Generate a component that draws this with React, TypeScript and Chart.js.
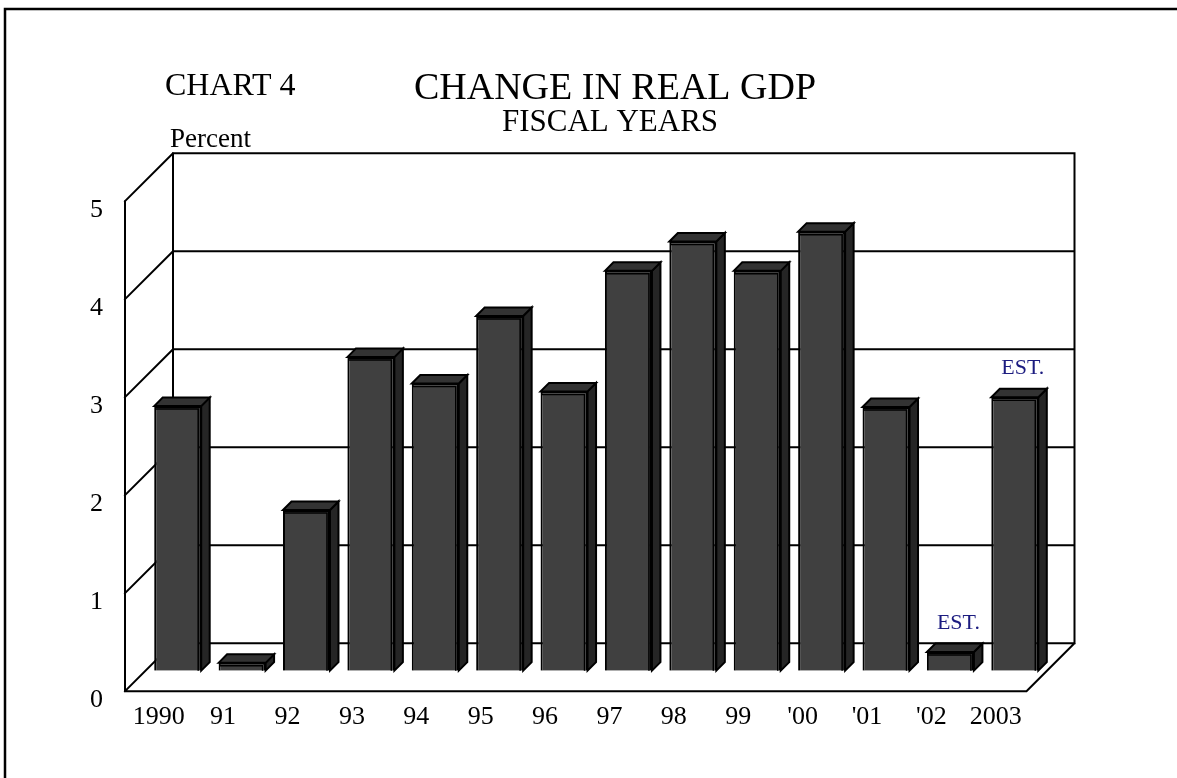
import React, { useEffect, useRef } from "react";
import { Chart, registerables } from "chart.js";

Chart.register(...registerables);

// ---- data ----
const categories = ["1990", "91", "92", "93", "94", "95", "96", "97", "98", "99", "'00", "'01", "'02", "2003"];
const gdpChange = [2.7, 0.08, 1.64, 3.2, 2.93, 3.62, 2.85, 4.08, 4.38, 4.08, 4.48, 2.69, 0.19, 2.79];
const barNotes = ["", "", "", "", "", "", "", "", "", "", "", "", "EST.", "EST."];
const yTicks = [0, 1, 2, 3, 4, 5];
const chartLabel = "CHART 4";
const titleText = "CHANGE IN REAL GDP";
const subtitleText = "FISCAL YEARS";
const unitText = "Percent";

const SERIF = "'Liberation Serif', 'Times New Roman', Times, serif";
const FRONT = 20.5; // depth from bar plane to front edge
const BACK = 27.5; // depth from bar plane to back wall
const BAR_DEPTH = 8.5;

const pseudo3d = {
  id: "pseudo3d",
  beforeDraw(chart: any) {
    const ctx = chart.ctx;
    ctx.save();
    ctx.strokeStyle = "#000";
    ctx.lineWidth = 2.5;
    ctx.beginPath();
    ctx.moveTo(5, 778);
    ctx.lineTo(5, 9);
    ctx.lineTo(1177, 9);
    ctx.stroke();

    ctx.fillStyle = "#000";
    ctx.textBaseline = "alphabetic";
    ctx.textAlign = "left";
    ctx.font = `32px ${SERIF}`;
    ctx.fillText(chartLabel, 165, 95);
    ctx.font = `27px ${SERIF}`;
    ctx.fillText(unitText, 170, 147);
    ctx.textAlign = "center";
    ctx.font = `38px ${SERIF}`;
    ctx.fillText(titleText, 615, 99);
    ctx.font = `31px ${SERIF}`;
    ctx.fillText(subtitleText, 610, 131);
    ctx.restore();
  },
  beforeDatasetsDraw(chart: any) {
    const { ctx, chartArea, scales } = chart;
    const { left, right } = chartArea;
    const y = scales.y;
    const y0 = y.getPixelForValue(0);
    const yMax = y.getPixelForValue(5);
    const bl = left + BACK;
    const br = right + BACK;
    const fl = left - FRONT;
    ctx.save();
    ctx.strokeStyle = "#000";
    ctx.lineWidth = 2;
    ctx.lineCap = "square";
    ctx.beginPath();
    // back wall frame
    ctx.moveTo(bl, y0 - BACK);
    ctx.lineTo(bl, yMax - BACK);
    ctx.lineTo(br, yMax - BACK);
    ctx.lineTo(br, y0 - BACK);
    // back wall gridlines + side wall diagonals
    for (const v of yTicks) {
      const py = y.getPixelForValue(v);
      ctx.moveTo(bl, py - BACK);
      ctx.lineTo(br, py - BACK);
      ctx.moveTo(fl, py + FRONT);
      ctx.lineTo(bl, py - BACK);
    }
    // side wall front edge
    ctx.moveTo(fl, y0 + FRONT);
    ctx.lineTo(fl, yMax + FRONT);
    // floor front & right edges
    ctx.moveTo(fl, y0 + FRONT);
    ctx.lineTo(right - FRONT, y0 + FRONT);
    ctx.lineTo(br, y0 - BACK);
    ctx.stroke();
    ctx.restore();
  },
  afterDatasetsDraw(chart: any) {
    const ctx = chart.ctx;
    const meta = chart.getDatasetMeta(0);
    ctx.save();
    ctx.strokeStyle = "#000";
    ctx.lineWidth = 2;
    ctx.lineJoin = "miter";
    const d = BAR_DEPTH;
    meta.data.forEach((bar: any, i: number) => {
      const { x, y: top, base, width } = bar.getProps(["x", "y", "base", "width"], true);
      const l = x - width / 2;
      const r = x + width / 2;
      // side face
      ctx.fillStyle = "#252525";
      ctx.beginPath();
      ctx.moveTo(r, top);
      ctx.lineTo(r + d, top - d);
      ctx.lineTo(r + d, base - d);
      ctx.lineTo(r, base);
      ctx.closePath();
      ctx.fill();
      ctx.stroke();
      // top face
      ctx.fillStyle = "#333333";
      ctx.beginPath();
      ctx.moveTo(l, top);
      ctx.lineTo(l + d, top - d);
      ctx.lineTo(r + d, top - d);
      ctx.lineTo(r, top);
      ctx.closePath();
      ctx.fill();
      ctx.stroke();
      // inner highlight line on the front face
      ctx.save();
      ctx.lineWidth = 1.5;
      ctx.beginPath();
      ctx.moveTo(l + 1, top + 3);
      ctx.lineTo(r - 3, top + 3);
      ctx.lineTo(r - 3, base);
      ctx.stroke();
      ctx.restore();

      const note = barNotes[i];
      if (note) {
        ctx.save();
        ctx.fillStyle = "#1c1c80";
        ctx.font = `22px ${SERIF}`;
        ctx.textAlign = "center";
        ctx.textBaseline = "middle";
        ctx.fillText(note, x + 8, top - 29);
        ctx.restore();
      }
    });
    ctx.restore();
  },
};

export default function App() {
  const canvasRef = useRef<HTMLCanvasElement | null>(null);

  useEffect(() => {
    if (!canvasRef.current) return;
    const chart = new Chart(canvasRef.current, {
      type: "bar",
      data: {
        labels: categories,
        datasets: [
          {
            label: "Change in real GDP",
            data: gdpChange,
            backgroundColor: "#404040",
            borderColor: "#000000",
            borderWidth: 2,
            barPercentage: 0.73,
            categoryPercentage: 1,
          },
        ],
      },
      options: {
        animation: false,
        responsive: false,
        devicePixelRatio: 1,
        layout: { padding: { left: 45.5, right: 130, top: 180.7, bottom: 17.3 } },
        plugins: {
          legend: { display: false },
          tooltip: { enabled: false },
          title: { display: false },
        },
        scales: {
          x: {
            type: "category",
            offset: true,
            grid: { display: false, drawTicks: false },
            border: { display: false },
            ticks: {
              font: { family: SERIF, size: 26 },
              color: "#000",
              labelOffset: -19,
              padding: 31,
              autoSkip: false,
              maxRotation: 0,
              minRotation: 0,
            },
            afterFit: (s: any) => {
              s.height = 90;
            },
          },
          y: {
            min: 0,
            max: 5,
            grid: { display: false, drawTicks: false },
            border: { display: false },
            ticks: {
              stepSize: 1,
              font: { family: SERIF, size: 26 },
              color: "#000",
              labelOffset: 29,
              padding: 42.5,
            },
            afterFit: (s: any) => {
              s.width = 100;
            },
          },
        },
      },
      plugins: [pseudo3d],
    });
    return () => chart.destroy();
  }, []);

  return (
    <div style={{ position: "fixed", left: 0, top: 0, width: 1177, height: 778, background: "#fff" }}>
      <canvas ref={canvasRef} width={1177} height={778} style={{ display: "block" }} />
    </div>
  );
}
